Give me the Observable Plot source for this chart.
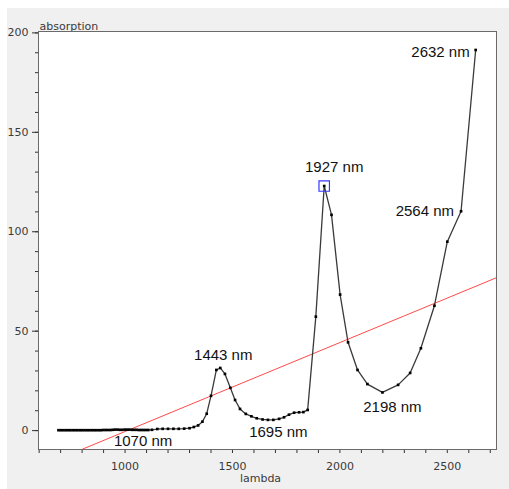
<!DOCTYPE html>
<html>
<head>
<meta charset="utf-8">
<script src="https://cdn.jsdelivr.net/npm/d3@7"></script>
<script src="https://cdn.jsdelivr.net/npm/@observablehq/plot@0.6"></script>
<style>
  html, body { margin: 0; padding: 0; background: #ffffff; }
  #chart { position: absolute; left: 7px; top: 8px; }
</style>
</head>
<body>
<div id="chart"></div>
<script>
// Absorption spectrum (wavelength in nm, absorption in arbitrary units)
const lambda = [
  690, 701, 712, 723, 734, 745, 756, 767, 778, 789, 800, 811, 822, 833, 844, 855, 866, 877, 888, 899,
  910, 921, 932, 943, 954, 965, 976, 987, 998, 1009, 1020, 1031, 1042, 1053, 1064, 1075, 1086, 1097, 1108,
  1125, 1150, 1175, 1200, 1225, 1250, 1275, 1300, 1320, 1340, 1360, 1380, 1400, 1425, 1443, 1465, 1490,
  1512, 1535, 1562, 1588, 1613, 1640, 1665, 1690, 1717, 1740, 1763, 1787, 1810, 1830, 1850, 1888, 1927,
  1961, 2001, 2038, 2082, 2128, 2198, 2271, 2327, 2377, 2440, 2500, 2564, 2632
];
const absorption = [
  0.2, 0.2, 0.2, 0.2, 0.2, 0.2, 0.2, 0.2, 0.2, 0.2, 0.2, 0.2, 0.2, 0.2, 0.2, 0.2, 0.2, 0.2, 0.2, 0.3,
  0.3, 0.3, 0.3, 0.4, 0.5, 0.5, 0.4, 0.4, 0.5, 0.5, 0.5, 0.4, 0.4, 0.4, 0.3, 0.3, 0.3, 0.3, 0.3,
  0.4, 0.8, 0.9, 0.9, 0.9, 0.9, 1.0, 1.2, 1.8, 2.6, 4.5, 8.5, 17.5, 30.5, 31.5, 28.5, 21.5,
  15.4, 10.9, 8.4, 7.2, 6.2, 5.6, 5.4, 5.4, 5.9, 6.7, 8.0, 9.0, 9.2, 9.3, 10.4, 57.3, 123,
  108.5, 68.4, 44.4, 30.5, 23.4, 19.2, 23.0, 29.0, 41.4, 62.8, 95.0, 110.3, 191.4
];

// Linear baseline fit
const fitLambda = [798, 2729];
const fitAbsorption = [-9.5, 76.9];

// Annotated wavelengths
const markLambda = [1070, 1443, 1695, 1927, 2198, 2564, 2632];
const markAbsorption = [0, 31.5, 5.4, 123, 19.2, 110.3, 191.4];
const selectedLambda = 1927;

// Axis ticks
const xTickLabels = [1000, 1500, 2000, 2500];
const yTickLabels = [0, 50, 100, 150, 200];
const xMinorTicks = d3.range(600, 2701, 100);
const yMinorTicks = d3.range(0, 201, 10);

const xDomain = [597, 2729];
const yDomain = [-9.5, 200.7];
const plotWidth = 502, plotHeight = 481;
const margin = {left: 31, right: 13, top: 23, bottom: 40};
// data units per pixel, used to size tick marks just outside the frame
const xPerPx = (xDomain[1] - xDomain[0]) / (plotWidth - margin.left - margin.right);
const yPerPx = (yDomain[1] - yDomain[0]) / (plotHeight - margin.top - margin.bottom);

const spectrum = lambda.map((x, i) => ({x, y: absorption[i]}));
const fit = fitLambda.map((x, i) => ({x, y: fitAbsorption[i]}));
const marks = markLambda.map((x, i) => ({x, y: markAbsorption[i], text: `${x} nm`}));
const selected = marks.filter(d => d.x === selectedLambda);

// label placement relative to each annotated point
const place = {
  1070: {dx: 3, dy: 11, anchor: "middle"},
  1443: {dx: 3, dy: -13, anchor: "middle"},
  1695: {dx: 4, dy: 12, anchor: "middle"},
  1927: {dx: 10, dy: -19, anchor: "middle"},
  2198: {dx: 10, dy: 15, anchor: "middle"},
  2564: {dx: -7, dy: 0, anchor: "end"},
  2632: {dx: -6, dy: 2, anchor: "end"}
};
const labelMarks = marks.map(d => Plot.text([d], {
  x: "x", y: "y", text: "text",
  dx: place[d.x].dx, dy: place[d.x].dy, textAnchor: place[d.x].anchor,
  fontFamily: "Liberation Sans, Arial, sans-serif", fontSize: 15, fill: "#111"
}));

const tickColor = "#333";

const chart = Plot.plot({
  width: plotWidth,
  height: plotHeight,
  marginLeft: margin.left,
  marginRight: margin.right,
  marginTop: margin.top,
  marginBottom: margin.bottom,
  style: {background: "#f0f0f0", fontFamily: "DejaVu Sans, sans-serif", fontSize: "11px", color: "#3a3a3a"},
  x: {domain: xDomain, label: null},
  y: {domain: yDomain, label: null},
  marks: [
    Plot.frame({fill: "white", stroke: "none"}),
    // tick marks below and left of the frame
    Plot.ruleX(xMinorTicks, {x: d => d, y1: yDomain[0], y2: yDomain[0] - 4 * yPerPx, stroke: tickColor}),
    Plot.ruleY(yMinorTicks, {y: d => d, x1: xDomain[0], x2: xDomain[0] - 3 * xPerPx, stroke: tickColor}),
    Plot.ruleY(yTickLabels, {y: d => d, x1: xDomain[0], x2: xDomain[0] - 6 * xPerPx, stroke: tickColor}),
    Plot.axisX(xTickLabels, {tickSize: 0, tickPadding: 13, tickFormat: d => String(d), fill: "#3a3a3a"}),
    Plot.axisY(yTickLabels, {tickSize: 0, tickPadding: 10, tickFormat: d => String(d), fill: "#3a3a3a"}),
    Plot.line(fit, {x: "x", y: "y", stroke: "#ff4a4a", strokeWidth: 1, clip: true}),
    Plot.line(spectrum, {x: "x", y: "y", stroke: "#3a3a3a", strokeWidth: 1.3}),
    Plot.dot(spectrum, {x: "x", y: "y", symbol: "square", r: 1.5, fill: "#000", stroke: "none"}),
    Plot.dot(selected, {x: "x", y: "y", symbol: "square", r: 5.9, fill: "none", stroke: "#3838ff", strokeWidth: 1.2}),
    ...labelMarks,
    Plot.text(["absorption"], {frameAnchor: "top-left", dx: 1, dy: -9, textAnchor: "start", fill: "#3a3a3a"}),
    Plot.text(["lambda"], {frameAnchor: "bottom", dx: -7, dy: 32, fill: "#3a3a3a"}),
    Plot.frame({stroke: "#6a6a6a", strokeWidth: 1})
  ]
});
document.getElementById("chart").appendChild(chart);
</script>
</body>
</html>
